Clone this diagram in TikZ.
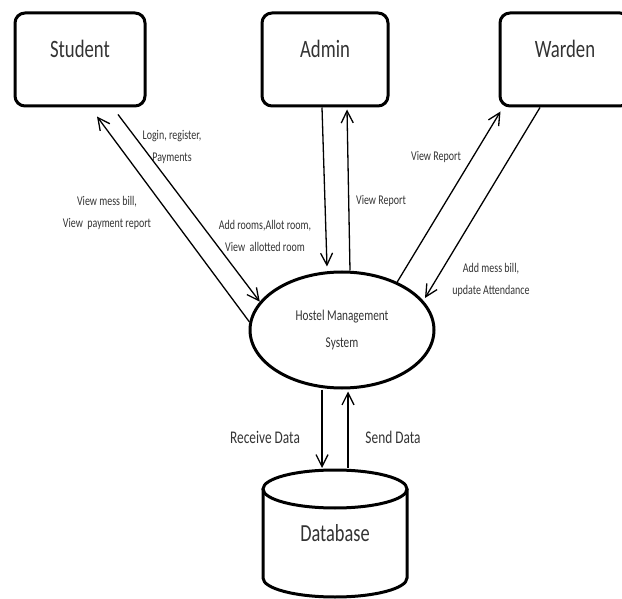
\documentclass[tikz,border=0pt]{standalone}
\usepackage{fontspec}
\setmainfont[FakeStretch=0.75]{Carlito}
\usepackage{tikz}
\usetikzlibrary{arrows.meta,shapes.geometric}

\begin{document}
\begin{tikzpicture}[x=1pt,y=-1pt,
	ent/.style={draw,line width=3pt,rounded corners=10pt,minimum height=93pt,inner sep=0pt,
		text=black!80,font=\fontsize{25}{30}\selectfont,text height=17pt,text depth=21pt},
	proc/.style={ellipse,draw,line width=3pt,minimum width=184pt,minimum height=116pt,inner sep=0pt,
		align=center,text=black!80,font=\fontsize{15}{27}\selectfont},
	lbl/.style={align=center,inner sep=0pt,text=black!80,font=\fontsize{13.3}{21.5}\selectfont},
	dlbl/.style={inner sep=0pt,text=black!80,font=\fontsize{17.8}{20}\selectfont},
	flow/.style={->,line width=1.3pt,>={Straight Barb[length=12pt,width=12pt]}},
	thk/.style={line width=3pt}]
	\clip (0,0) rectangle (622,599);
	
	% Entidades
	\node[ent,minimum width=130pt] (stu) at (80,59.5) {Student};
	\node[ent,minimum width=126pt] (adm) at (325,59.5) {Admin};
	\node[ent,minimum width=130pt] (war) at (565,59.5) {Warden};
	
	% Processo
	\node[proc] (hms) at (342,330) {Hostel Management\\System};
	
	% Base de dados
	\draw[thk] (335,489) ellipse [x radius=72pt, y radius=19pt];
	\draw[thk] (263,489) -- (263,578) arc[start angle=180, end angle=360, x radius=72pt, y radius=19pt] -- (407,489);
	\node[text=black!80,font=\fontsize{24.5}{30}\selectfont,inner sep=0pt] (db) at (335,533) {Database};
	\coordinate (dbtop) at (335,468);
	
	% Student
	\draw[flow] (hms.175) -- ([xshift=17pt,yshift=-9pt]stu.south);
	\draw[flow] ([xshift=38pt,yshift=-7pt]stu.south) -- (hms.161);
	\node[lbl] (l1) at (172,147) {Login, register,\\Payments};
	\node[lbl] (l2) at (107,213) {View mess bill,\\View\ \ payment report};
	\node[lbl] (l3) at (265,236) {Add rooms,Allot room,\\View\ \ allotted room};
	
	% Admin
	\draw[flow] ([xshift=-3pt]adm.south) -- ([xshift=-15pt,yshift=4pt]hms.north);
	\draw[flow] ([xshift=8pt]hms.north) -- ([xshift=22pt,yshift=-2pt]adm.south);
	\node[lbl] (l4) at (381,201) {View Report};
	
	% Warden
	\draw[flow] (hms.41) -- ([xshift=2pt,yshift=-4pt]war.south west);
	\draw[flow] ([xshift=-25pt]war.south) -- ([xshift=83pt,yshift=32pt]hms.center);
	\node[lbl] (l5) at (436,157) {View Report};
	\node[lbl] (l6) at (491,280) {Add mess bill,\\update Attendance};
	
	% Database
	\draw[flow] ([xshift=-20pt]hms.south) -- ([xshift=-13pt]dbtop);
	\draw[flow] ([xshift=13pt]dbtop) -- ([xshift=6pt,yshift=-2pt]hms.south);
	\node[dlbl] (l7) at (265,437) {Receive Data};
	\node[dlbl] (l8) at (393,437) {Send Data};
\end{tikzpicture}
\end{document}
